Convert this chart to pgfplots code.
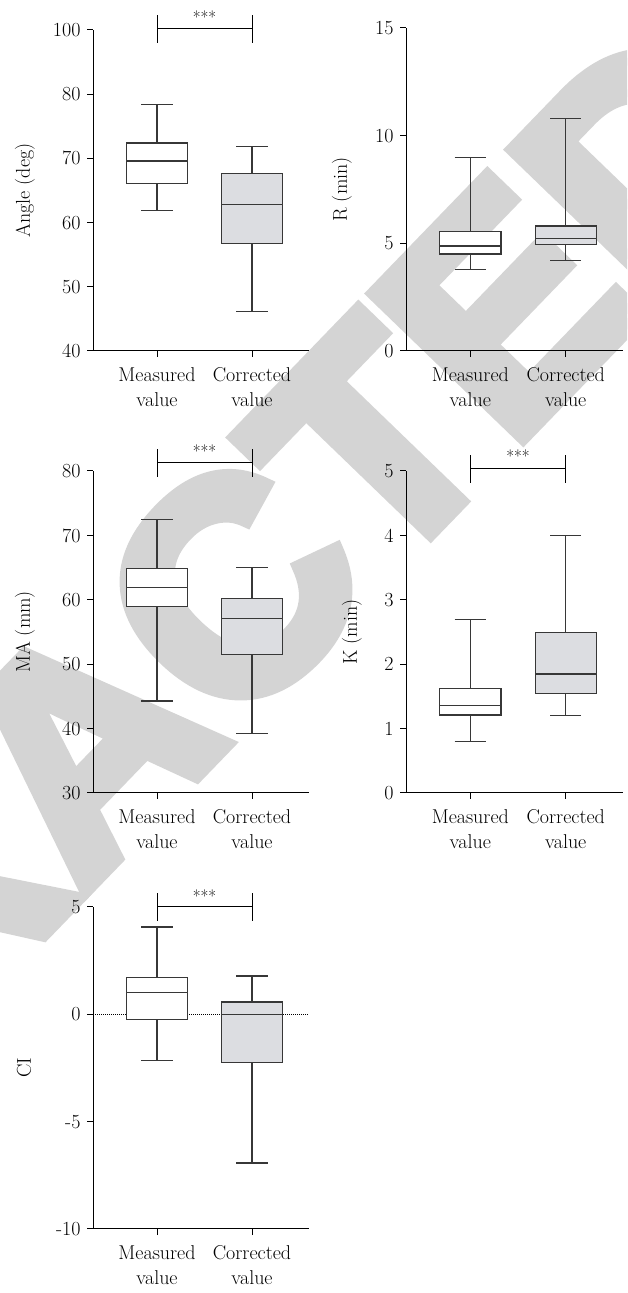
\documentclass[border=0pt]{standalone}
\usepackage{fontspec}
\newfontfamily\wmfont{Liberation Sans}[BoldFeatures={FakeBold=5}]
\usepackage{pgfplots}
\pgfplotsset{compat=1.18}
\usepgfplotslibrary{statistics}
\definecolor{boxgray}{RGB}{220,221,225}
\definecolor{lin}{RGB}{55,55,55}
\definecolor{wm}{RGB}{212,212,212}
\pgfplotsset{panel/.style={
  scale only axis, anchor=south west, clip=false,
  axis x line*=bottom, axis y line*=left,
  xmin=0.326, xmax=2.6, xtick={1,2},
  xticklabels={{Measured\\value},{Corrected\\value}},
  xticklabel style={align=center, font=\fontsize{20}{25}\selectfont, yshift=-7pt},
  yticklabel style={font=\fontsize{20}{22}\selectfont, xshift=-3pt},
  tick align=outside, major tick length=6pt,
  axis line style={line width=1pt, black},
  every tick/.style={black, line width=1pt},
  /pgf/number format/assume math mode=true,
  ylabel style={font=\fontsize{20}{22}\selectfont, at={(axis description cs:0,0.5)}, anchor=center},
  boxplot/draw direction=y, boxplot/box extend=0.64, boxplot/whisker extend=0.33,
}}
\pgfplotsset{bxm/.style={draw=lin, fill=white, line width=1.3pt, solid},
  bxc/.style={draw=lin, fill=boxgray, line width=1.3pt, solid},
  sig/.style={black, line width=1pt, mark=none}}
\begin{document}
\begin{tikzpicture}
\path[use as bounding box] (0,0) rectangle (627pt,1293pt);
\begin{scope}
\clip (0,0) rectangle (627pt,1293pt);
\node[rotate=46, text=wm, font=\wmfont\bfseries\fontsize{300}{300}\selectfont, inner sep=0pt] at (82pt,548pt) {RETRACTED};
\end{scope}
% Panel 1: Angle
\begin{axis}[panel, at={(93pt,942pt)}, width=216pt, height=321pt,
  ymin=40, ymax=90, ytick={40,50,60,70,80,90}, yticklabels={40,50,60,70,80,100},
  ylabel={Angle (deg)}, ylabel style={yshift=68pt}]
\addplot[boxplot prepared={draw position=1, lower whisker=61.9, lower quartile=66.1, median=69.6, upper quartile=72.4, upper whisker=78.4}, bxm] coordinates {};
\addplot[boxplot prepared={draw position=2, lower whisker=46.2, lower quartile=56.7, median=62.8, upper quartile=67.6, upper whisker=71.9}, bxc] coordinates {};
\addplot[sig] coordinates {(1,88) (1,92.4)};
\addplot[sig] coordinates {(2,88) (2,92.4)};
\addplot[sig] coordinates {(1,90.2) (2,90.2)};
\node[font=\fontsize{17}{17}\selectfont, anchor=south] at (axis cs:1.5,90.5) {***};
\end{axis}
% Panel 2: R
\begin{axis}[panel, at={(406pt,942pt)}, width=217pt, height=323pt,
  ymin=0, ymax=15, ytick={0,5,10,15},
  ylabel={R (min)}, ylabel style={yshift=64pt}]
\addplot[boxplot prepared={draw position=1, lower whisker=3.80, lower quartile=4.51, median=4.88, upper quartile=5.55, upper whisker=9.0}, bxm] coordinates {};
\addplot[boxplot prepared={draw position=2, lower whisker=4.19, lower quartile=4.96, median=5.24, upper quartile=5.81, upper whisker=10.79}, bxc] coordinates {};
\end{axis}
% Panel 3: MA
\begin{axis}[panel, at={(93pt,500pt)}, width=216pt, height=322pt,
  ymin=30, ymax=80, ytick={30,40,50,60,70,80},
  ylabel={MA (mm)}, ylabel style={yshift=68pt}]
\addplot[boxplot prepared={draw position=1, lower whisker=44.3, lower quartile=59.0, median=61.9, upper quartile=64.85, upper whisker=72.5}, bxm] coordinates {};
\addplot[boxplot prepared={draw position=2, lower whisker=39.2, lower quartile=51.5, median=57.1, upper quartile=60.25, upper whisker=65.06}, bxc] coordinates {};
\addplot[sig] coordinates {(1,79.1) (1,83.4)};
\addplot[sig] coordinates {(2,79.1) (2,83.4)};
\addplot[sig] coordinates {(1,81.3) (2,81.3)};
\node[font=\fontsize{17}{17}\selectfont, anchor=south] at (axis cs:1.5,81.6) {***};
\end{axis}
% Panel 4: K
\begin{axis}[panel, at={(406pt,500pt)}, width=217pt, height=322pt,
  ymin=0, ymax=5, ytick={0,1,2,3,4,5},
  ylabel={K (min)}, ylabel style={yshift=54pt}]
\addplot[boxplot prepared={draw position=1, lower whisker=0.80, lower quartile=1.21, median=1.36, upper quartile=1.62, upper whisker=2.69}, bxm] coordinates {};
\addplot[boxplot prepared={draw position=2, lower whisker=1.20, lower quartile=1.54, median=1.85, upper quartile=2.49, upper whisker=4.0}, bxc] coordinates {};
\addplot[sig] coordinates {(1,4.82) (1,5.25)};
\addplot[sig] coordinates {(2,4.82) (2,5.25)};
\addplot[sig] coordinates {(1,5.04) (2,5.04)};
\node[font=\fontsize{17}{17}\selectfont, anchor=south] at (axis cs:1.5,5.07) {***};
\end{axis}
% Panel 5: CI
\begin{axis}[panel, at={(93pt,64pt)}, width=216pt, height=322pt,
  ymin=-10, ymax=5, ytick={-10,-5,0,5},
  ylabel={CI}, ylabel style={yshift=69pt}]
\addplot[black, densely dotted, line width=1pt, mark=none] coordinates {(0.326,0) (2.6,0)};
\addplot[boxplot prepared={draw position=1, lower whisker=-2.14, lower quartile=-0.25, median=1.03, upper quartile=1.71, upper whisker=4.07}, bxm] coordinates {};
\addplot[boxplot prepared={draw position=2, lower whisker=-6.93, lower quartile=-2.24, median=0, upper quartile=0.58, upper whisker=1.78}, bxc] coordinates {};
\addplot[sig] coordinates {(1,4.35) (1,5.67)};
\addplot[sig] coordinates {(2,4.35) (2,5.67)};
\addplot[sig] coordinates {(1,5) (2,5)};
\node[font=\fontsize{17}{17}\selectfont, anchor=south] at (axis cs:1.5,5.05) {***};
\end{axis}
\end{tikzpicture}
\end{document}
